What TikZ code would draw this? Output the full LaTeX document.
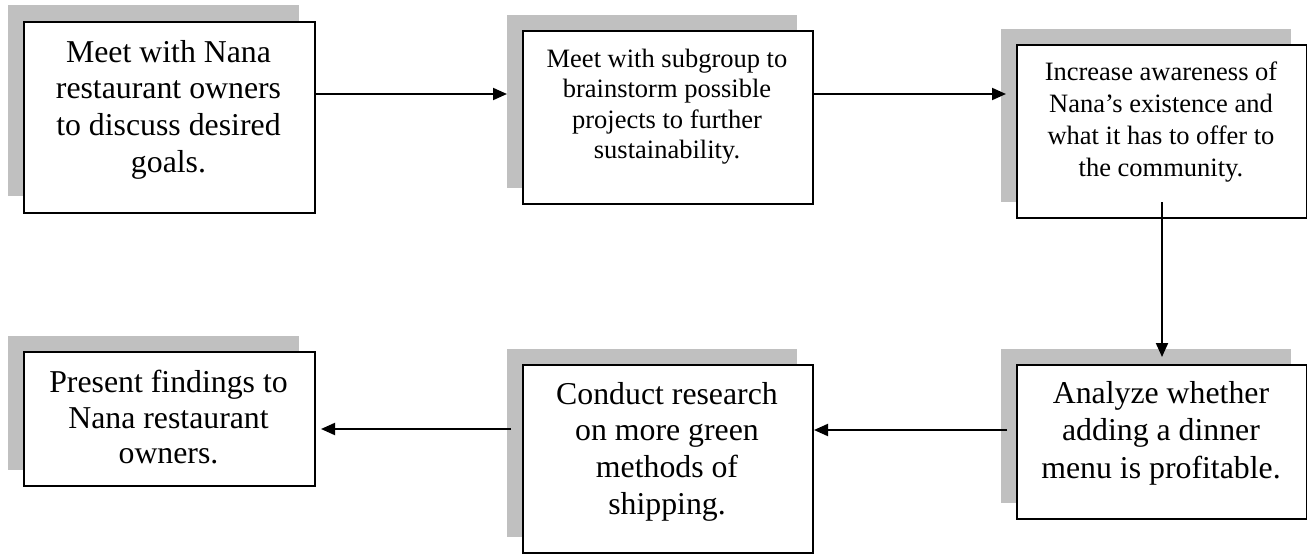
\documentclass[tikz,border=0pt]{standalone}
\usepackage{fontspec}
\setmainfont{Liberation Serif}
\usetikzlibrary{arrows.meta}
\definecolor{shadowgray}{RGB}{192,192,192}
\begin{document}
\begin{tikzpicture}[x=1pt,y=-1pt,
  shadowbox/.style={fill=shadowgray, draw=none, inner sep=0pt, anchor=north west},
  mainbox/.style={fill=white, draw=black, line width=2pt, inner sep=0pt, anchor=north west},
  bigtext/.style={anchor=north, inner sep=0pt, align=center, font=\fontsize{31.8}{36.7}\selectfont},
  smalltext/.style={anchor=north, inner sep=0pt, align=center, font=\fontsize{26.5}{30.5}\selectfont},
  arr/.style={line width=2pt, -{Triangle[length=14pt,width=12pt]}}]
\useasboundingbox (0,0) rectangle (1307,554);
% shadows
\node[shadowbox, minimum width=291pt, minimum height=191pt] (s1) at (8,5) {};
\node[shadowbox, minimum width=290pt, minimum height=173pt] (s2) at (507,15) {};
\node[shadowbox, minimum width=290pt, minimum height=173pt] (s3) at (1001,29) {};
\node[shadowbox, minimum width=290pt, minimum height=154pt] (s4) at (1001,349) {};
\node[shadowbox, minimum width=290pt, minimum height=188pt] (s5) at (507,349) {};
\node[shadowbox, minimum width=291pt, minimum height=134pt] (s6) at (8,336) {};
% boxes
\node[mainbox, minimum width=291pt, minimum height=191pt] (b1) at (23,21) {};
\node[mainbox, minimum width=290pt, minimum height=173pt] (b2) at (522,30) {};
\node[mainbox, minimum width=290pt, minimum height=173pt] (b3) at (1016,44) {};
\node[mainbox, minimum width=290pt, minimum height=154pt] (b4) at (1016,364) {};
\node[mainbox, minimum width=290pt, minimum height=188pt] (b5) at (522,364) {};
\node[mainbox, minimum width=291pt, minimum height=134pt] (b6) at (23,351) {};
% texts
\node[bigtext] (t1) at (168.5,36.3) {\strut Meet with Nana\\restaurant owners\\to discuss desired\\goals.};
\node[smalltext] (t2) at (667,45.7) {\strut Meet with subgroup to\\brainstorm possible\\projects to further\\sustainability.};
\node[smalltext, font=\fontsize{26.5}{32}\selectfont] (t3) at (1161,57.6) {\strut Increase awareness of\\Nana’s existence and\\what it has to offer to\\the community.};
\node[bigtext, font=\fontsize{31.8}{37.5}\selectfont] (t4) at (1161,376.8) {\strut Analyze whether\\adding a dinner\\menu is profitable.};
\node[bigtext] (t5) at (667,378.3) {\strut Conduct research\\on more green\\methods of\\shipping.};
\node[bigtext, font=\fontsize{31.8}{35.8}\selectfont] (t6) at (168.5,367) {\strut Present findings to\\Nana restaurant\\owners.};
% connectors
\draw[arr] (b1.east |- 0,94) -- (s2.west |- 0,94);
\draw[arr, shorten >=-5pt] (b2.east |- 0,94) -- (s3.west |- 0,94);
\draw[arr, shorten >=7pt] (b3.south |- s3.south) -- (b4.north);
\draw[arr, shorten <=-6pt] (s4.west |- 0,430) -- (b5.east |- 0,430);
\draw[arr, shorten <=-4pt, shorten >=5pt] (s5.west |- 0,429) -- (b6.east |- 0,429);
\end{tikzpicture}
\end{document}
